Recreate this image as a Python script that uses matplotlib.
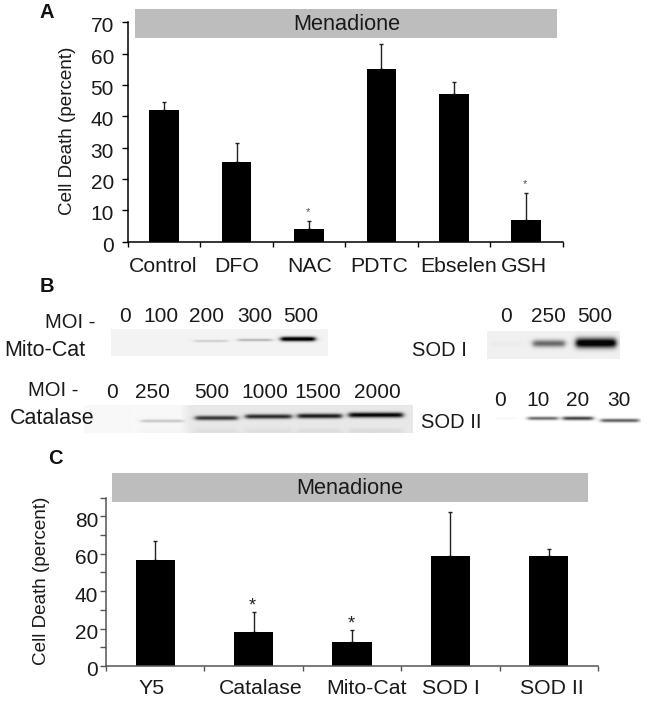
import numpy as np
import matplotlib
matplotlib.use("Agg")
import matplotlib.pyplot as plt
from matplotlib.patches import Rectangle

W, H = 649, 705
plt.rcParams['font.family'] = ['Liberation Sans', 'DejaVu Sans']

# Panel A
a_labels = ["Control", "DFO", "NAC", "PDTC", "Ebselen", "GSH"]
a_values = [42, 25.5, 4, 55, 47, 7]
a_errors = [2.5, 6, 2.5, 8, 4, 8.5]
a_stars = ["", "", "*", "", "", "*"]
a_yticks = [0, 10, 20, 30, 40, 50, 60, 70]
# Panel C
c_labels = ["Y5", "Catalase", "Mito-Cat", "SOD I", "SOD II"]
c_values = [56.5, 18.3, 12.8, 58.5, 58.5]
c_errors = [10.5, 10.5, 6.5, 24, 4]
c_stars = ["", "*", "*", "", ""]
c_yticks = [0, 20, 40, 60, 80]
title = "Menadione"
# Blots: lane labels and band strength
mito_lanes = ["0", "100", "200", "300", "500"]
mito_bands = [0.0, 0.0, 0.13, 0.22, 1.0]
sod1_lanes = ["0", "250", "500"]
sod1_bands = [0.02, 0.5, 1.0]
cat_lanes = ["0", "250", "500", "1000", "1500", "2000"]
cat_bands = [0.0, 0.17, 0.68, 0.72, 0.78, 0.88]
sod2_lanes = ["0", "10", "20", "30"]
sod2_bands = [0.03, 0.55, 0.7, 0.6]

fig = plt.figure(figsize=(W/100, H/100), dpi=100, facecolor='white')
bg = fig.add_axes([0, 0, 1, 1])
bg.set_xlim(0, W); bg.set_ylim(H, 0); bg.axis('off')

def axes_px(x0, y0, x1, y1, **kw):
    return fig.add_axes([x0/W, 1-y1/H, (x1-x0)/W, (y1-y0)/H], **kw)

def bar_panel(box, labels, vals, errs, stars, yticks, ymax, minor, lab_dx, axcol, ylab_x, ylab_y, lab_y, star_fs, star_col, star_gap, bw, tick_x, tick_dy):
    ax = axes_px(*box)
    ax.patch.set_alpha(0)
    n = len(labels)
    x = np.arange(n)
    ax.bar(x, vals, width=bw, color='black', zorder=2)
    ax.errorbar(x, vals, yerr=[np.zeros(n), errs], fmt='none', ecolor='#222222', elinewidth=1, capsize=1.5, capthick=1, zorder=1)
    ax.set_xlim(-0.5, n-0.5); ax.set_ylim(0, ymax)
    for s in ('top', 'right'):
        ax.spines[s].set_visible(False)
    for s in ('left', 'bottom'):
        ax.spines[s].set_color(axcol); ax.spines[s].set_linewidth(1.1)
    ax.set_xticks(np.arange(n+1)-0.5); ax.set_xticklabels([])
    ax.set_yticks(yticks); ax.set_yticklabels([])
    ax.set_yticks(minor, minor=True)
    ax.tick_params(axis='y', which='both', length=4.5, width=1, color=axcol)
    ax.tick_params(axis='x', length=3.5, width=1, color=axcol)
    x0, y0, x1, y1 = box
    for t in yticks:
        py = y1 - (y1-y0)*t/ymax
        bg.text(tick_x, py+tick_dy, str(t), ha='right', va='center', fontsize=15, color='#1a1a1a')
    for i, l in enumerate(labels):
        px = x0 + (x1-x0)*(i+0.5)/n + lab_dx[i]
        bg.text(px, lab_y, l, ha='center', va='center', fontsize=15.3, color='#1a1a1a')
    for i, s in enumerate(stars):
        if s:
            ax.annotate(s, (i, vals[i]+errs[i]), xytext=(-1, star_gap), textcoords='offset pixels',
                        ha='center', va='center', fontsize=star_fs, color=star_col)
    bg.text(ylab_x, ylab_y, "Cell Death (percent)", rotation=90, ha='center', va='center', fontsize=13.6, color='#1a1a1a')
    return ax

bar_panel((128, 22.3, 562.5, 241.5), a_labels, a_values, a_errors, a_stars, a_yticks, 70, [],
          [-1, 0, 1, -2.5, 5, -2], 'black', 67, 131, 266, 8, '#555555', 9, 0.41, 114, 4.5)
bar_panel((106, 497.5, 598, 666), c_labels, c_values, c_errors, c_stars, c_yticks, 90, [10, 30, 50, 70, 90],
          [-3.5, 7, 14, 0, 3], '#555555', 42, 581, 689, 13, '#222222', 6, 0.4, 98, 5)

for (x0, y0, x1, y1, tx) in [(134.5, 9, 557, 38, 346.5), (112, 473, 588, 502, 350)]:
    bg.add_patch(Rectangle((x0, y0), x1-x0, y1-y0, color='#bdbdbd', lw=0, zorder=5))
    bg.text(tx, (y0+y1)/2+0.5, title, ha='center', va='center', fontsize=15.7, color='#1a1a1a', zorder=6)
bg.set_zorder(5)

def blot(box, centers, bands, half_w, band_y, sigma, shade, haze=0.0, light_until=None):
    x0, y0, x1, y1 = box
    xs = np.arange(x0, x1) + 0.5
    ys = np.arange(y0, y1) + 0.5
    X, Y = np.meshgrid(xs, ys)
    d = np.zeros_like(X)
    for c, b, hw, yb in zip(centers, bands, half_w, band_y):
        s = sigma * (0.55 + 0.6*b)
        prof = 0.5*(np.tanh((X-c+hw)/3) - np.tanh((X-c-hw)/3))
        d += b * prof * np.exp(-((Y-yb)/s)**2)
        if haze:
            d += haze * b * prof * np.exp(-((Y-y1+2)/2.5)**2)
    base = np.full_like(X, shade)
    if light_until:
        base = shade + (0.97-shade)*np.clip((light_until-X)/10, 0, 1)
    img = np.clip(base - (base-0.02)*np.clip(d*1.15, 0, 1), 0, 1)
    ax = axes_px(x0, y0, x1, y1)
    ax.imshow(img, cmap='gray', vmin=0, vmax=1, aspect='auto', interpolation='bilinear')
    ax.axis('off')

blot((111, 329, 328, 356), [125, 161, 211, 255, 298], mito_bands, [15, 15, 17, 17, 17],
     [340, 340, 341, 340, 339], 2.0, 0.95)
blot((487, 331, 620, 359), [506, 549, 596], sod1_bands, [15, 16, 20],
     [344, 343.5, 343], 4.3, 0.94)
blot((84, 405, 412, 433), [111, 162, 216, 268, 319, 375], cat_bands, [18, 21, 21, 23, 22, 27],
     [418, 421, 418, 416.5, 416, 415], 2.4, 0.91, 0.06, 190)
blot((495, 414, 641, 428), [505, 543, 578, 620], sod2_bands, [12, 15, 15, 19],
     [419, 419, 419, 421], 1.7, 1.0)

def lanes(names, xs, y):
    for n, px in zip(names, xs):
        bg.text(px, y, n, ha='center', va='center', fontsize=15, color='#1a1a1a')

lanes(mito_lanes, [125, 161, 207, 255, 301], 317)
lanes(sod1_lanes, [506, 548, 595], 317)
lanes(cat_lanes, [112, 152, 212, 265, 318, 377], 392)
lanes(sod2_lanes, [500, 538, 578, 619], 400)

for s, px, py, fs in [("MOI -", 45, 322, 14.5), ("Mito-Cat", 4, 350, 15.5), ("SOD I", 412, 351, 14.5),
                      ("MOI -", 28, 391, 14.5), ("Catalase", 10, 419, 15.5), ("SOD II", 421, 422, 14.5)]:
    bg.text(px, py, s, ha='left', va='center', fontsize=fs, color='#1a1a1a')
for s, px, py in [("A", 47, 13), ("B", 47, 287), ("C", 55, 458)]:
    bg.text(px, py, s, ha='center', va='center', fontsize=14.5, fontweight='bold', color='#111111')

fig.savefig("out.png", dpi=100)
